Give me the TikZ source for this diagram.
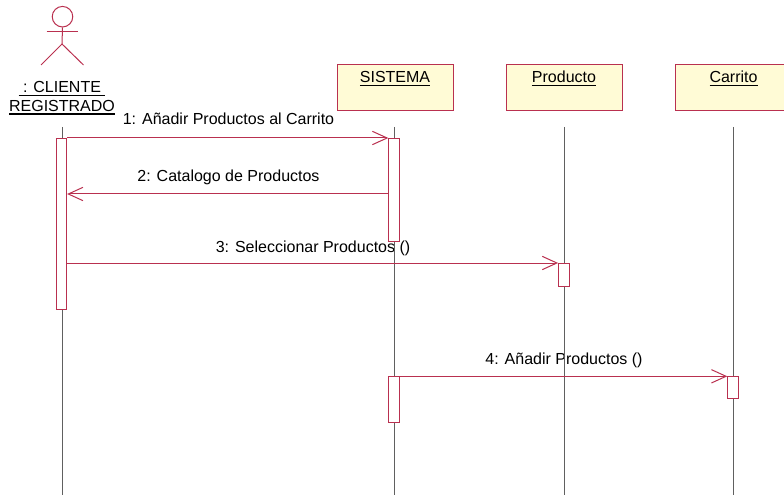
\documentclass[tikz,border=0pt]{standalone}
\usepackage{fontspec}
\setmainfont{Liberation Sans}
\usetikzlibrary{arrows.meta}
\definecolor{umlred}{HTML}{B9304F}
\definecolor{umlfill}{HTML}{FFFBD6}
\definecolor{lifegray}{HTML}{606060}
\newcommand\ulbox[1]{\setbox0=\hbox{#1}\leavevmode\rlap{\rule[-2.4pt]{\wd0}{1.1pt}}\box0}
\tikzset{
  px/.style={x=0.75pt,y=-0.75pt},
  objbox/.style={draw=umlred,fill=umlfill,line width=0.75pt,minimum width=87pt,minimum height=34pt,inner sep=0pt},
  objtext/.style={anchor=base,inner sep=0pt,font=\fontsize{12}{14}\selectfont,text=black},
  msgtext/.style={anchor=base,inner sep=0pt,font=\fontsize{12}{14}\selectfont,text=black},
  lifeline/.style={draw=lifegray,line width=0.75pt},
  activation/.style={draw=umlred,fill=white,line width=0.75pt,minimum width=7.8pt,inner sep=0pt},
  msg/.style={draw=umlred,line width=0.75pt,-{Straight Barb[length=11pt,width=10pt,line width=0.75pt]},shorten >=0pt},
  actorline/.style={draw=umlred,line width=0.75pt}
}
\begin{document}
\begin{tikzpicture}[px]
\useasboundingbox (0,0) rectangle (784,495);
\clip (0,0) rectangle (784,495);
% actor
\node[draw=umlred,line width=0.75pt,circle,minimum size=15.4pt,inner sep=0pt] (head) at (62.5,16.7) {};
\coordinate (hip) at (62,44);
\coordinate (armL) at (46.5,31.5);
\coordinate (armR) at (77.5,31.5);
\coordinate (footL) at (41,65);
\coordinate (footR) at (83.5,65);
\draw[actorline] (head.south) -- (hip);
\draw[actorline] (armL) -- (armR);
\draw[actorline] (footL) -- (hip) -- (footR);
\node[objtext] (actor1) at (62,93) {\ulbox{\ : CLIENTE\ }};
\node[objtext] (actor2) at (62,111.5) {\ulbox{REGISTRADO}};
% object boxes
\node[objbox,anchor=north west] (sistema) at (337,64.5) {};
\node[objbox,anchor=north west] (producto) at (505.5,64.5) {};
\node[objbox,anchor=north west] (carrito) at (674.7,64.5) {};
\node[objtext] (tsistema) at (395,83) {\ulbox{SISTEMA}};
\node[objtext] (tproducto) at (564,83) {\ulbox{Producto}};
\node[objtext] (tcarrito) at (733.5,83) {\ulbox{Carrito}};
% message labels
\node[msgtext] (m1) at (228.5,125) {1: Añadir Productos al Carrito};
\node[msgtext] (m2) at (228.5,182) {2: Catalogo de Productos};
\node[msgtext] (m3) at (313,252) {3: Seleccionar Productos ()};
\node[msgtext] (m4) at (564,364) {4: Añadir Productos ()};
% lifelines
\coordinate (lA) at (62,127);   \coordinate (lAe) at (62,495);
\coordinate (lS) at (394.7,127); \coordinate (lSe) at (394.7,495);
\coordinate (lP) at (564,127);  \coordinate (lPe) at (564,495);
\coordinate (lC) at (733.5,127); \coordinate (lCe) at (733.5,495);
\draw[lifeline] (lA) -- (lAe);
\draw[lifeline] (lS) -- (lSe);
\draw[lifeline] (lP) -- (lPe);
\draw[lifeline] (lC) -- (lCe);
% activations
\node[activation,anchor=north,minimum height=128.25pt] (acA) at (61.4,138) {};
\node[activation,anchor=north,minimum height=76.9pt] (acS1) at (394,138) {};
\node[activation,anchor=north,minimum height=17pt] (acP) at (563.8,263) {};
\node[activation,anchor=north,minimum height=34.3pt] (acS2) at (394,376.3) {};
\node[activation,anchor=north,minimum height=16.5pt] (acC) at (733,376.3) {};
% messages
\coordinate (y2) at (0,194);
\coordinate (y3) at (0,263);
\draw[msg] (acA.north east) -- (acS1.north west);
\draw[msg] (acS1.west |- y2) -- (acA.east |- y2);
\draw[msg] (acA.east |- y3) -- (acP.north west);
\draw[msg] (acS2.north east) -- (acC.north west);
\end{tikzpicture}
\end{document}
